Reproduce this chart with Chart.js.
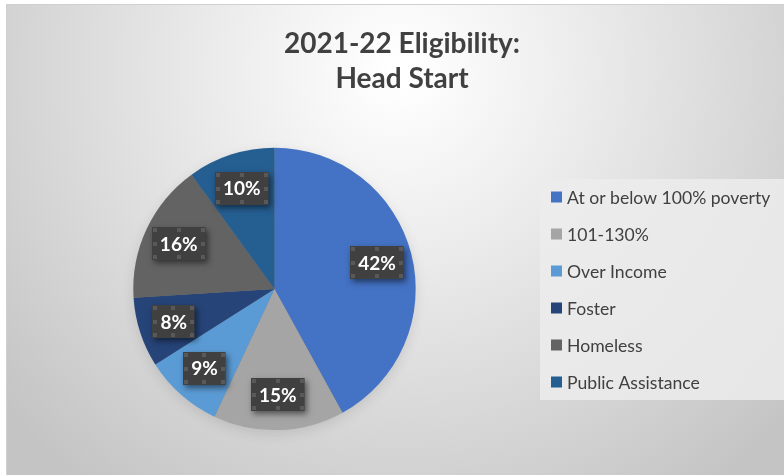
<!DOCTYPE html>
<html>
<head>
<meta charset="utf-8">
<script src="https://cdn.jsdelivr.net/npm/chart.js@4/dist/chart.umd.min.js"></script>
<style>
  html, body { margin: 0; padding: 0; background: #ffffff; }
  #wrap { position: absolute; left: 0; top: 0; width: 784px; height: 475px; }
</style>
</head>
<body>
<div id="wrap"><canvas id="c" width="784" height="475"></canvas></div>
<script>
const titleLines = ["2021-22 Eligibility:", "Head Start"];
const categories = ["At or below 100% poverty", "101-130%", "Over Income", "Foster", "Homeless", "Public Assistance"];
const values = [42, 15, 9, 8, 16, 10];
const colors = ["#4472C4", "#A5A5A5", "#5B9BD5", "#264478", "#636363", "#255E91"];

const FONT = "Lato, 'Open Sans', sans-serif";

const bgPlugin = {
  id: 'bg',
  beforeDraw(chart) {
    const ctx = chart.ctx;
    ctx.save();
    ctx.fillStyle = '#ffffff';
    ctx.fillRect(0, 0, 784, 475);
    const g = ctx.createRadialGradient(400, 70, 10, 400, 70, 520);
    g.addColorStop(0, '#ffffff');
    g.addColorStop(0.35, '#ebebeb');
    g.addColorStop(1, '#c4c4c4');
    ctx.fillStyle = g;
    ctx.fillRect(7, 5, 777, 470);
    ctx.strokeStyle = '#d0d0d0';
    ctx.lineWidth = 1;
    ctx.strokeRect(6.5, 4.5, 790, 480);
    // title
    ctx.fillStyle = '#404040';
    ctx.font = "bold 28px " + FONT;
    ctx.textAlign = 'center';
    ctx.textBaseline = 'middle';
    ctx.fillText(titleLines[0], 402, 44);
    ctx.fillText(titleLines[1], 402, 79);
    // legend
    ctx.fillStyle = 'rgba(236,236,236,0.85)';
    ctx.fillRect(540, 179, 244, 221);
    ctx.font = "17.6px " + FONT;
    ctx.textAlign = 'left';
    categories.forEach((c, i) => {
      const y = 197 + i * 37;
      ctx.fillStyle = colors[i];
      ctx.fillRect(551, y - 5.5, 11, 11);
      ctx.fillStyle = '#404040';
      ctx.fillText(c, 567, y + 1);
    });
    ctx.restore();
  },
  beforeDatasetsDraw(chart) {
    const ctx = chart.ctx;
    const arc = chart.getDatasetMeta(0).data[0];
    if (!arc) return;
    ctx.save();
    ctx.fillStyle = 'rgba(0,0,0,0.35)';
    ctx.shadowColor = 'rgba(0,0,0,0.35)';
    ctx.shadowBlur = 14;
    ctx.shadowOffsetY = 4;
    ctx.beginPath();
    ctx.arc(arc.x, arc.y, arc.outerRadius - 1, 0, Math.PI * 2);
    ctx.fill();
    ctx.restore();
  }
};

const labelPlugin = {
  id: 'boxlabels',
  afterDatasetsDraw(chart) {
    const ctx = chart.ctx;
    const meta = chart.getDatasetMeta(0);
    ctx.save();
    ctx.font = "bold 19px " + FONT;
    ctx.textAlign = 'center';
    ctx.textBaseline = 'middle';
    meta.data.forEach((a, i) => {
      const mid = (a.startAngle + a.endAngle) / 2;
      const r = a.outerRadius * 0.75;
      const cx = a.x + Math.cos(mid) * r;
      const cy = a.y + Math.sin(mid) * r;
      const txt = values[i] + '%';
      const w = ctx.measureText(txt).width + 16;
      const h = 33;
      const x0 = Math.round(cx - w / 2), y0 = Math.round(cy - h / 2);
      ctx.save();
      ctx.shadowColor = 'rgba(0,0,0,0.5)';
      ctx.shadowBlur = 6;
      ctx.shadowOffsetX = 2;
      ctx.shadowOffsetY = 3;
      ctx.fillStyle = '#404040';
      ctx.fillRect(x0, y0, w, h);
      ctx.restore();
      ctx.fillStyle = '#595959';
      const s = 4;
      const pts = [[x0 + 1, y0 + 1], [x0 + w / 2 - 2, y0 + 1], [x0 + w - 5, y0 + 1],
                   [x0 + 1, y0 + h / 2 - 2], [x0 + w - 5, y0 + h / 2 - 2],
                   [x0 + 1, y0 + h - 5], [x0 + w / 2 - 2, y0 + h - 5], [x0 + w - 5, y0 + h - 5]];
      pts.forEach(p => ctx.fillRect(Math.round(p[0]), Math.round(p[1]), s, s));
      ctx.fillStyle = '#ffffff';
      ctx.fillText(txt, cx, cy + 1);
    });
    ctx.restore();
  }
};

new Chart(document.getElementById('c'), {
  type: 'pie',
  data: {
    labels: categories,
    datasets: [{
      data: values,
      backgroundColor: colors,
      borderWidth: 0
    }]
  },
  options: {
    responsive: false,
    animation: false,
    layout: { padding: { left: 133.3, right: 368.3, top: 147.7, bottom: 44.9 } },
    plugins: {
      legend: { display: false },
      title: { display: false },
      tooltip: { enabled: false }
    }
  },
  plugins: [bgPlugin, labelPlugin]
});
</script>
</body>
</html>
